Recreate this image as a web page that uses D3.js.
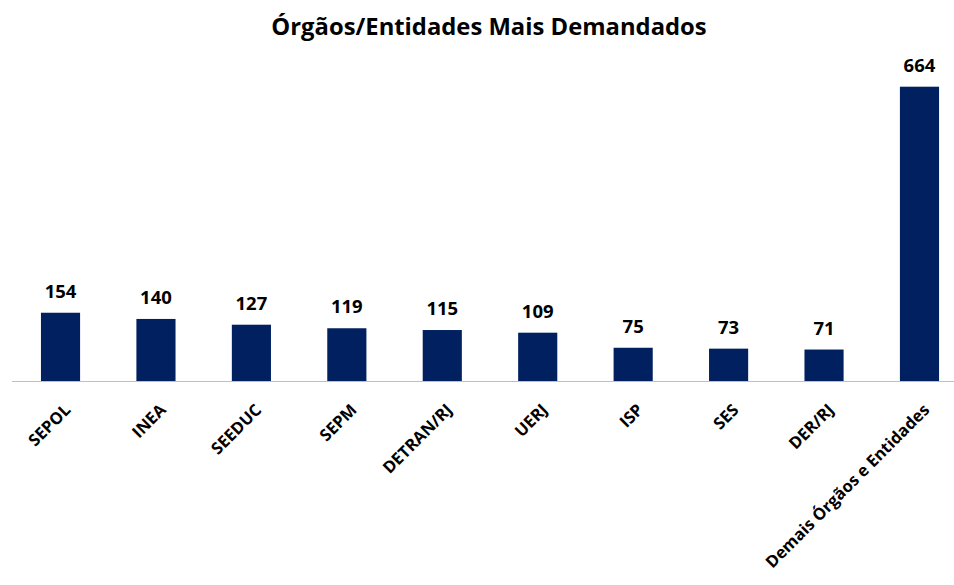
<!DOCTYPE html>
<html lang="pt">
<head>
<meta charset="UTF-8">
<title>Órgãos/Entidades Mais Demandados</title>
<style>
  body { margin: 0; background: #fff; }
  text { font-family: "Open Sans", "Liberation Sans", sans-serif; font-weight: bold; fill: #000; }
</style>
</head>
<body>
<svg width="954" height="585"></svg>
<script src="https://d3js.org/d3.v7.min.js"></script>
<script>
// data
var categories = ["SEPOL", "INEA", "SEEDUC", "SEPM", "DETRAN/RJ", "UERJ", "ISP", "SES", "DER/RJ", "Demais Órgãos e Entidades"];
var values = [154, 140, 127, 119, 115, 109, 75, 73, 71, 664];

var svg = d3.select("svg");
var baseY = 381;

var x = d3.scaleBand()
    .domain(categories)
    .range([12.8, 967.2])
    .paddingInner(0.59)
    .paddingOuter(0.295);

var y = d3.scaleLinear()
    .domain([0, 664])
    .range([baseY, 86.7]);

// title
svg.append("text")
    .attr("x", 489)
    .attr("y", 35)
    .attr("text-anchor", "middle")
    .style("font-size", "23.8px")
    .text("Órgãos/Entidades Mais Demandados");

// bars
svg.selectAll(".bar")
    .data(values)
    .enter().append("rect")
    .attr("class", "bar")
    .attr("x", (d, i) => x(categories[i]))
    .attr("y", d => y(d))
    .attr("width", x.bandwidth())
    .attr("height", d => baseY - y(d))
    .attr("fill", "#002060");

// value labels
svg.selectAll(".val")
    .data(values)
    .enter().append("text")
    .attr("class", "val")
    .attr("x", (d, i) => x(categories[i]) + x.bandwidth() / 2)
    .attr("y", d => y(d) - 15)
    .attr("text-anchor", "middle")
    .style("font-size", "18.5px")
    .text(d => d);

// axis line
svg.append("line")
    .attr("x1", 12).attr("x2", 954)
    .attr("y1", baseY + 0.5).attr("y2", baseY + 0.5)
    .attr("stroke", "#bfbfbf")
    .attr("stroke-width", 1.2);

// category labels
svg.selectAll(".cat")
    .data(categories)
    .enter().append("text")
    .attr("class", "cat")
    .attr("text-anchor", "end")
    .attr("transform", d => "translate(" + (x(d) + x.bandwidth() / 2 + 11) + "," + (baseY + 30) + ") rotate(-45)")
    .style("font-size", "16.5px")
    .text(d => d);
</script>
</body>
</html>
